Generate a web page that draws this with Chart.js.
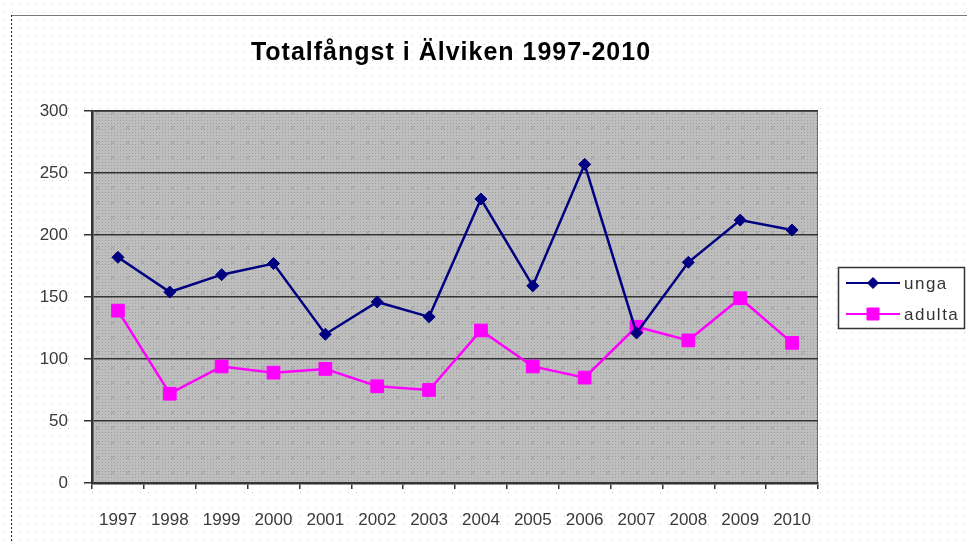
<!DOCTYPE html>
<html>
<head>
<meta charset="utf-8">
<script src="https://cdn.jsdelivr.net/npm/chart.js@4.4.0/dist/chart.umd.min.js"></script>
<style>
  body { margin: 0; background: #fff; }
  #wrap { width: 967px; height: 541px; position: relative; }
</style>
</head>
<body>
<div id="wrap"><canvas id="graph"></canvas></div>
<script>
'use strict';

// data
const years  = ['1997', '1998', '1999', '2000', '2001', '2002', '2003', '2004', '2005', '2006', '2007', '2008', '2009', '2010'];
const unga   = [182, 154, 168, 177, 120, 146, 134, 229, 159, 257, 121, 178, 212, 204];
const adulta = [139, 72, 94, 89, 92, 78, 75, 123, 94, 85, 126, 115, 149, 113];
const yTicks = [0, 50, 100, 150, 200, 250, 300];
const title  = 'Totalfångst i Älviken 1997-2010';

const FONT = '"Liberation Sans", Arial, sans-serif';

function makePattern(size, draw) {
    let c = document.createElement('canvas');
    c.width = size;
    c.height = size;
    draw(c.getContext('2d'));
    return c;
}

// white sheet with a sparse dot grid
const sheetTile = makePattern(8, function (g) {
    g.fillStyle = '#fff';
    g.fillRect(0, 0, 8, 8);
    g.fillStyle = '#c8c8c8';
    g.fillRect(4, 4, 1, 1);
});

// grey plot area, fine dots plus small crosses
const plotTile = makePattern(15, function (g) {
    g.fillStyle = '#bebebe';
    g.fillRect(0, 0, 15, 15);
    g.fillStyle = '#a0a0a0';
    for (let x = 0; x < 15; x += 3) {
        for (let y = 0; y < 15; y += 3) {
            g.fillRect(x, y, 1, 1);
        }
    }
    g.fillStyle = '#989898';
    g.fillRect(7, 7, 1, 1);
    g.fillRect(6, 6, 1, 1);
    g.fillRect(8, 8, 1, 1);
    g.fillRect(6, 8, 1, 1);
    g.fillRect(8, 6, 1, 1);
});

const decor = {
    id: 'decor',
    beforeDraw(chart) {
        const ctx = chart.ctx;
        const a = chart.chartArea;
        ctx.save();
        ctx.fillStyle = ctx.createPattern(sheetTile, 'repeat');
        ctx.fillRect(0, 0, chart.width, chart.height);
        // outer frame
        ctx.strokeStyle = '#7a7a7a';
        ctx.lineWidth = 1;
        ctx.beginPath();
        ctx.moveTo(11, 15.5);
        ctx.lineTo(chart.width, 15.5);
        ctx.stroke();
        ctx.strokeStyle = '#222';
        ctx.setLineDash([2, 2]);
        ctx.beginPath();
        ctx.moveTo(11.5, 15);
        ctx.lineTo(11.5, chart.height);
        ctx.stroke();
        ctx.setLineDash([]);
        // plot area
        ctx.fillStyle = ctx.createPattern(plotTile, 'repeat');
        ctx.fillRect(a.left, a.top, a.right - a.left, a.bottom - a.top);
        ctx.strokeStyle = '#6e6e6e';
        ctx.strokeRect(a.left + 0.5, a.top + 0.5, a.right - a.left - 1, a.bottom - a.top - 1);
        // title
        ctx.fillStyle = '#000';
        ctx.font = 'bold 25px ' + FONT;
        ctx.letterSpacing = '1px';
        ctx.textAlign = 'center';
        ctx.textBaseline = 'middle';
        ctx.fillText(title, 451, 53);
        ctx.restore();
    },
    afterDraw(chart) {
        const ctx = chart.ctx;
        const bx = 838, by = 267, bw = 126, bh = 61;
        ctx.save();
        ctx.fillStyle = '#fff';
        ctx.fillRect(bx, by, bw, bh);
        ctx.strokeStyle = '#333';
        ctx.lineWidth = 1.5;
        ctx.strokeRect(bx + 0.5, by + 0.5, bw, bh);
        ctx.font = '17px ' + FONT;
        ctx.letterSpacing = '1.5px';
        ctx.textAlign = 'left';
        ctx.textBaseline = 'middle';
        chart.data.datasets.forEach(function (ds, i) {
            const y = by + 16 + i * 31;
            ctx.strokeStyle = ds.borderColor;
            ctx.fillStyle = ds.backgroundColor;
            ctx.lineWidth = 2;
            ctx.beginPath();
            ctx.moveTo(846, y);
            ctx.lineTo(900, y);
            ctx.stroke();
            ctx.lineWidth = 1;
            Chart.helpers.drawPoint(ctx, {
                pointStyle: ds.pointStyle,
                radius: ds.legendRadius,
                rotation: 0,
                borderWidth: 1
            }, 873, y);
            ctx.fillStyle = '#333';
            ctx.fillText(ds.label, 904, y + 1);
        });
        ctx.restore();
    }
};

const ctx = document.getElementById('graph').getContext('2d');

const graph = new Chart(ctx, {
    type: 'line',
    data: {
        labels: years,
        datasets: [
            {
                label: 'unga',
                data: unga,
                borderColor: '#000080',
                backgroundColor: '#000080',
                borderWidth: 2.5,
                pointStyle: 'rectRot',
                pointRadius: 6,
                pointBorderWidth: 1,
                legendRadius: 5.5,
                tension: 0
            },
            {
                label: 'adulta',
                data: adulta,
                borderColor: '#ff00ff',
                backgroundColor: '#ff00ff',
                borderWidth: 2.5,
                pointStyle: 'rect',
                pointRadius: 9,
                pointBorderWidth: 1,
                legendRadius: 8.5,
                tension: 0
            }
        ]
    },
    options: {
        responsive: true,
        maintainAspectRatio: false,
        animation: false,
        layout: {
            padding: { left: 20, right: 149, top: 111, bottom: 0 }
        },
        plugins: {
            legend: { display: false },
            title: { display: false },
            tooltip: { enabled: false }
        },
        scales: {
            x: {
                offset: true,
                grid: {
                    offset: true,
                    drawOnChartArea: false,
                    drawTicks: true,
                    tickLength: 6,
                    color: '#333',
                    lineWidth: 1.5
                },
                border: { color: '#333', width: 2.5 },
                ticks: {
                    color: '#3a3a3a',
                    padding: 21,
                    maxRotation: 0,
                    autoSkip: false,
                    font: { family: FONT, size: 17 }
                },
                afterFit(scale) { scale.height = 58; }
            },
            y: {
                min: 0,
                max: 300,
                afterBuildTicks(scale) {
                    scale.ticks = yTicks.map(function (v) { return { value: v }; });
                },
                grid: {
                    color: '#333',
                    lineWidth: 1.5,
                    tickLength: 8
                },
                border: { color: '#333', width: 2.5 },
                ticks: {
                    color: '#3a3a3a',
                    padding: 16,
                    font: { family: FONT, size: 17 }
                },
                afterFit(scale) { scale.width = 72; }
            }
        }
    },
    plugins: [decor]
});
</script>
</body>
</html>
